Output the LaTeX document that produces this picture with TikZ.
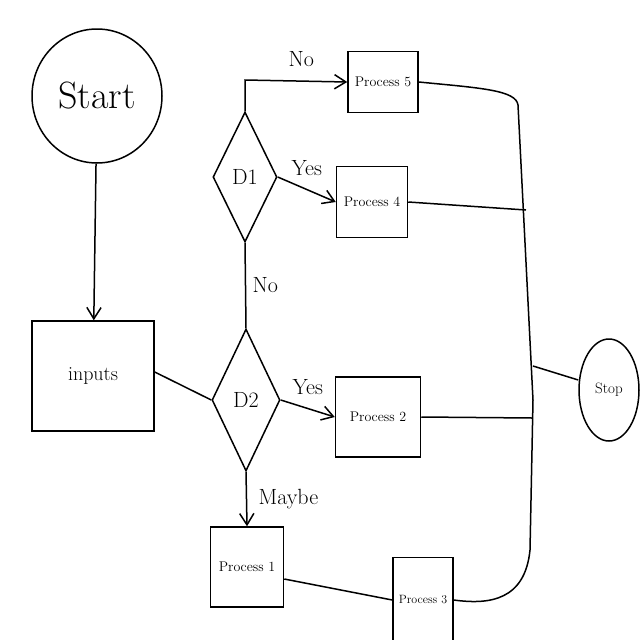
\documentclass[tikz,border=0pt]{standalone}
\usepackage{fontspec}
\usepackage{tikz}
\usetikzlibrary{arrows.meta,positioning,shapes.geometric}
\tikzset{box/.style={draw,line width=1.5pt,align=center,font=\fontsize{14}{16}\selectfont,minimum width=70pt,minimum height=62pt,inner sep=2pt},flow/.style={-{Straight Barb[length=4mm,width=5mm]},line width=1.5pt},line/.style={line width=1.5pt},dec/.style={draw,line width=1.5pt,diamond,font=\fontsize{22}{26}\selectfont,inner sep=0pt},term/.style={draw,line width=1.5pt,ellipse,inner sep=0pt},lbl/.style={font=\fontsize{22}{26}\selectfont}}

\begin{document}
\begin{tikzpicture}[x=1pt,y=-1pt]
\useasboundingbox (0,0) rectangle (640,640);
\node[term,minimum width=130pt,minimum height=134pt,font=\fontsize{38}{44}\selectfont] (start) at (97,96) {Start};
\node[box,minimum width=122pt,minimum height=110pt,font=\fontsize{20}{24}\selectfont] (inp) at (93,376) {inputs};
\node[dec,minimum width=68pt,minimum height=142pt] (d2) at (246,400) {D2};
\node[dec,minimum width=64pt,minimum height=130pt] (d1) at (245,177) {D1};
\node[box,minimum height=61pt] (p5) at (383,82) {Process 5};
\node[box,minimum width=71pt,minimum height=71pt] (p4) at (372,202) {Process 4};
\node[box,minimum width=85pt,minimum height=80pt] (p2) at (378,417) {Process 2};
\node[box,minimum width=73pt,minimum height=80pt] (p1) at (247,567) {Process 1};
\node[box,minimum width=60pt,minimum height=85pt,font=\fontsize{12}{14}\selectfont] (p3) at (423,600) {Process 3};
\node[term,minimum width=60pt,minimum height=102pt,font=\fontsize{15}{18}\selectfont] (stop) at (609,390) {Stop};
\coordinate (j4) at (526,210);
\coordinate (j2) at (532,418);
\coordinate (js) at (533,366);
\draw[flow] (start)--(inp);
\draw[line] ([yshift=4pt]inp.east)--(d2.west);
\draw[line] (d2.north)--(d1.south) node[lbl,midway,right=3pt] {No};
\draw[flow] (d1.north)--(245,80)--(p5.west) node[lbl,pos=0.55,above=10pt] {No};
\draw[flow] (d1.east)--(p4.west) node[lbl,midway,above=10pt] {Yes};
\draw[flow] (d2.east)--(p2.west) node[lbl,midway,above=10pt] {Yes};
\draw[flow] (d2.south)--(p1.north) node[lbl,midway,right=8pt] {Maybe};
\draw[line] ([yshift=-12pt]p1.east)--(p3.west);
\draw[line] (p5.east) .. controls (480,88) and (516,90) .. (518,105) -- (533,400) -- (530,550) .. controls (525,600) and (490,605) .. (p3.east);
\draw[line] (p4.east)--(j4);
\draw[line] (p2.east)--(j2);
\draw[line] (js)--([yshift=10pt]stop.west);
\end{tikzpicture}
\end{document}
